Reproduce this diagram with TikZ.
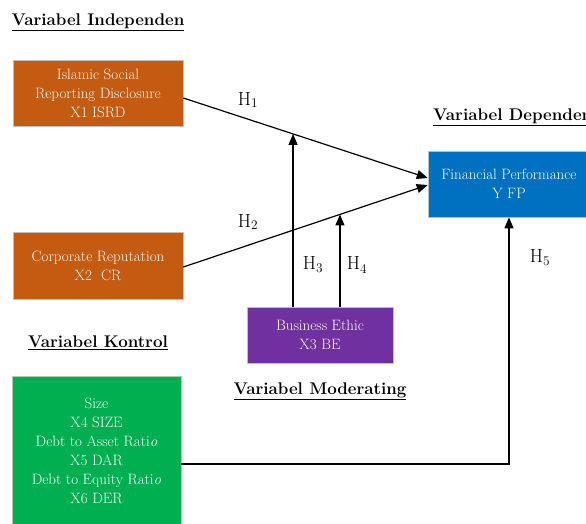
\documentclass[tikz,border=0pt]{standalone}
\usetikzlibrary{arrows.meta,positioning,calc}
\definecolor{vrOrange}{HTML}{C55A11}
\definecolor{vrBlue}{HTML}{0070C0}
\definecolor{vrPurple}{HTML}{7030A0}
\definecolor{vrGreen}{HTML}{00B050}
\definecolor{vrEdge}{HTML}{BFBFBF}

\begin{document}
\begin{tikzpicture}[
  x=1pt,y=-1pt,
  box/.style={draw=vrEdge,line width=0.6pt,text=white,align=center,inner sep=0pt,
              font=\fontsize{15}{19}\selectfont},
  head/.style={font=\fontsize{16.9}{22}\selectfont\bfseries,inner sep=0pt},
  hyp/.style={font=\fontsize{19}{22}\selectfont,inner sep=0pt},
  link/.style={->,line width=1.2pt},
  >={Triangle[length=11pt,width=9pt]}
]
\useasboundingbox (0,0) rectangle (586,524);
\clip (0,0) rectangle (586,524);

% headings
\node[head]             (hind) at (98,22)  {\underline{Variabel Independen}};
\node[head,anchor=west] (hdep) at (433,117) {\underline{Variabel Dependen}};
\node[head]             (hkon) at (98,343) {\underline{Variabel Kontrol}};
\node[head]             (hmod) at (320,391) {\underline{Variabel Moderating}};

% variables
\node[box,fill=vrOrange,minimum width=170,minimum height=66] (isrd) at (98,93)
  {Islamic Social\\Reporting Disclosure\\X1 ISRD};
\node[box,fill=vrOrange,minimum width=170,minimum height=67] (cr) at (98,265.5)
  {Corporate Reputation\\X2~~CR};
\node[box,fill=vrBlue,minimum width=162,minimum height=66] (fp) at (509,184)
  {Financial Performance\\Y FP};
\node[box,fill=vrPurple,minimum width=146,minimum height=56] (be) at (320,335)
  {Business Ethic\\X3 BE};
\node[box,fill=vrGreen,minimum width=169,minimum height=149] (ctrl) at (96.5,450.5)
  {Size\\X4 SIZE\\Debt to Asset Rati\textit{o}\\X5 DAR\\Debt to Equity Rati\textit{o}\\X6 DER};

% paths
\draw[link] ([yshift=-5pt]isrd.east) -- coordinate[pos=0.449] (m1) ([yshift=6pt]fp.west);
\draw[link] ([yshift=-1.5pt]cr.east) -- coordinate[pos=0.641] (m2) ([yshift=-1pt]fp.west);
\draw[link] (m1 |- be.north) -- (m1);
\draw[link] (m2 |- be.north) -- (m2);
\draw[link] ([yshift=-13.5pt]ctrl.east) -| (fp.south);

\node[hyp] (h1) at (248,100) {H\textsubscript{1}};
\node[hyp] (h2) at (248,222) {H\textsubscript{2}};
\node[hyp] (h3) at (313,265) {H\textsubscript{3}};
\node[hyp] (h4) at (357,265) {H\textsubscript{4}};
\node[hyp] (h5) at (540,258) {H\textsubscript{5}};
\end{tikzpicture}
\end{document}
